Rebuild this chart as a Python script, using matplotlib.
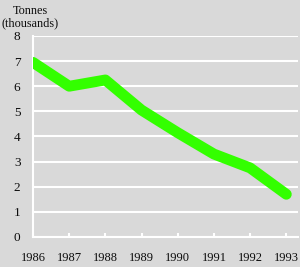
import matplotlib.pyplot as plt

years = [1986, 1987, 1988, 1989, 1990, 1991, 1992, 1993]
tonnes = [6.95, 6.0, 6.25, 5.05, 4.15, 3.3, 2.75, 1.7]
yticks = [0, 1, 2, 3, 4, 5, 6, 7, 8]

BG = "#d9d9d9"
GREEN = "#33ff00"

plt.rcParams['font.family'] = ['Liberation Serif', 'DejaVu Serif']

fig = plt.figure(figsize=(3.0, 2.67), dpi=100)
fig.patch.set_facecolor(BG)
ax = fig.add_axes([0.11, 0.1124, 0.883, 0.7528])
ax.set_facecolor(BG)

ax.plot(years, tonnes, color=GREEN, linewidth=7.8, solid_capstyle="round",
        solid_joinstyle="round", zorder=3)

ax.set_xlim(1986, 1993.32)
ax.set_ylim(0, 8)
ax.set_xticks(years)
ax.set_yticks(yticks)
ax.grid(axis="y", color="white", linewidth=1.5, zorder=1)
ax.set_axisbelow(True)

for s in ["top", "right"]:
    ax.spines[s].set_visible(False)
for s in ["left", "bottom"]:
    ax.spines[s].set_color("white")
    ax.spines[s].set_linewidth(1.5)

ax.tick_params(axis="x", direction="in", length=3, width=1.5, color="white",
               labelsize=9, pad=11, labelcolor="#0d0d0d")
ax.tick_params(axis="y", length=0, labelsize=9.5, pad=9, labelcolor="#0d0d0d")

fig.text(0.1, 0.98, "Tonnes\n(thousands)", ha="center", va="top",
         fontsize=8.8, color="#0d0d0d", linespacing=1.0)

fig.savefig("out.png", dpi=100, facecolor=BG)
